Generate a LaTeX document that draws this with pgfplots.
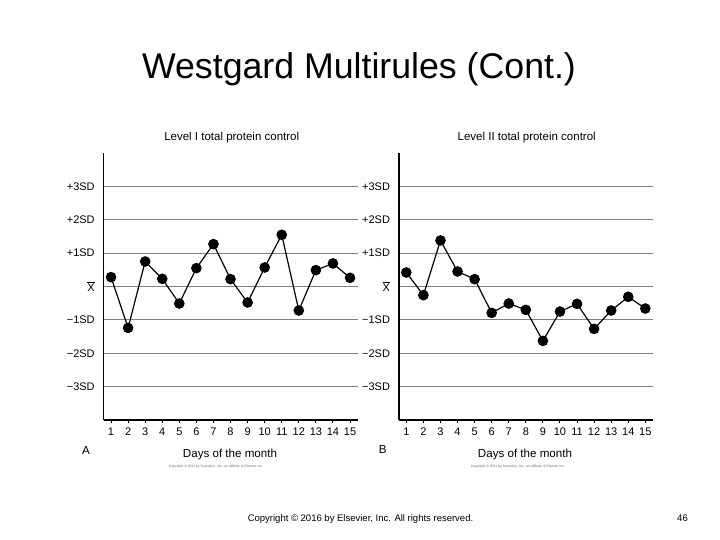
\documentclass[border=0pt]{standalone}
\usepackage{pgfplots}
\pgfplotsset{compat=1.18}
\usepackage{fontspec}
\setmainfont{Liberation Sans}

\pgfplotstableread{
day lvlone lvltwo
1  0.28  0.42
2  -1.24 -0.26
3  0.75  1.38
4  0.23  0.45
5  -0.51 0.22
6  0.55  -0.79
7  1.27  -0.51
8  0.22  -0.70
9  -0.48 -1.63
10 0.57  -0.75
11 1.55  -0.52
12 -0.72 -1.27
13 0.49  -0.72
14 0.69  -0.31
15 0.26  -0.66
}\ctrldata

\pgfplotsset{ctrl/.style={
  scale only axis, width=254bp, height=267bp,
  xmin=0.57, xmax=15.45, ymin=-4, ymax=4,
  axis lines=left, axis line style={-, line width=1.3bp, black},
  xtick={1,...,15}, tick align=outside, major tick length=3.5bp,
  xtick style={black, line width=1bp},
  ytick={-3,...,3},
  yticklabels={−3SD,−2SD,−1SD,$\overline{\mbox{X}}$,+1SD,+2SD,+3SD},
  ytick style={draw=none},
  ymajorgrids, major grid style={black!50, line width=1bp},
  /pgf/number format/assume math mode=true,
  ticklabel style={font=\fontsize{11bp}{12bp}\selectfont},
  xticklabel style={yshift=-1bp},
  yticklabel style={font=\fontsize{11bp}{12bp}\selectfont, xshift=-2bp},
  clip=false,
}}

\begin{document}
\begin{tikzpicture}
\path[use as bounding box] (0,0) rectangle (720bp,540bp);

\begin{axis}[ctrl, at={(103.7bp,120bp)}, anchor=south west]
\addplot[black, line width=1.2bp, mark=*, mark size=4.7bp, mark options={fill=black}] table[x=day, y=lvlone] {\ctrldata};
\end{axis}

\begin{axis}[ctrl, at={(399bp,120bp)}, anchor=south west]
\addplot[black, line width=1.2bp, mark=*, mark size=4.7bp, mark options={fill=black}] table[x=day, y=lvltwo] {\ctrldata};
\end{axis}

% main title
\node[anchor=base, inner sep=0pt, font=\fontsize{35.7bp}{40bp}\selectfont] at (359bp,461bp) {Westgard Multirules (Cont.)};

% panel titles
\node[anchor=base, inner sep=0pt, font=\fontsize{11.5bp}{13bp}\selectfont] at (231.7bp,399.3bp) {Level I total protein control};
\node[anchor=base, inner sep=0pt, font=\fontsize{11.5bp}{13bp}\selectfont] at (526.7bp,399.3bp) {Level II total protein control};

% x labels
\node[anchor=base, inner sep=0pt, font=\fontsize{11.6bp}{13bp}\selectfont] at (230bp,82.7bp) {Days of the month};
\node[anchor=base, inner sep=0pt, font=\fontsize{11.6bp}{13bp}\selectfont] at (525bp,82.7bp) {Days of the month};

% panel letters
\node[anchor=base, inner sep=0pt, font=\fontsize{11.6bp}{13bp}\selectfont] at (86bp,85bp) {A};
\node[anchor=base, inner sep=0pt, font=\fontsize{11.6bp}{13bp}\selectfont] at (382.8bp,86.7bp) {B};

% tiny figure copyrights
\node[inner sep=0pt, text=black!60, font=\fontsize{3.4bp}{4bp}\selectfont] at (216bp,73.3bp) {Copyright © 2011 by Saunders, Inc., an affiliate of Elsevier Inc.};
\node[inner sep=0pt, text=black!60, font=\fontsize{3.4bp}{4bp}\selectfont] at (518bp,73.3bp) {Copyright © 2011 by Saunders, Inc., an affiliate of Elsevier Inc.};

% footer
\node[anchor=base, inner sep=0pt, font=\fontsize{9.5bp}{11bp}\selectfont] at (360.5bp,18.3bp) {Copyright © 2016 by Elsevier, Inc. All rights reserved.};
\node[anchor=base, inner sep=0pt, font=\fontsize{9.5bp}{11bp}\selectfont] at (682.5bp,18.3bp) {46};
\end{tikzpicture}
\end{document}
